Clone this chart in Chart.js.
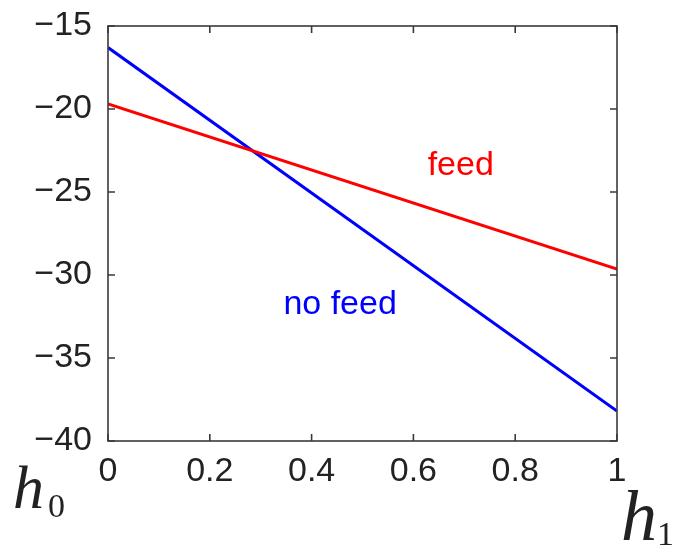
<!DOCTYPE html>
<html>
<head>
<meta charset="utf-8">
<script src="https://cdn.jsdelivr.net/npm/chart.js@4/dist/chart.umd.min.js"></script>
<style>
    html, body { margin: 0; padding: 0; background: #fff; }
    canvas { display: block; }
</style>
</head>
<body>
<canvas id="feedChart" width="679" height="547"></canvas>
<script>
// Line end points (h from 0 to 1)
const hValues = [0, 1];
const feedValues = [-19.7, -29.65];
const noFeedValues = [-16.3, -38.2];

// Axis ticks
const xTicks = [0, 0.2, 0.4, 0.6, 0.8, 1];
const yTicks = [-40, -35, -30, -25, -20, -15];

// Text labels placed in data coordinates
const seriesLabels = [
    { text: 'feed', x: 0.693, y: -23.4, color: '#ff0000' },
    { text: 'no feed', x: 0.456, y: -31.8, color: '#0000ff' }
];

const tickFont = { family: 'Liberation Sans', size: 34 };

function fmt(v) {
    const s = String(Math.round(v * 10) / 10);
    return v < 0 ? '\u2212' + s.slice(1) : s;
}

// Frame with inward ticks on all four sides, plus text labels
const framePlugin = {
    id: 'frame',
    afterDatasetsDraw(chart) {
        const { ctx, chartArea: a, scales } = chart;
        const len = 7;
        ctx.save();
        ctx.strokeStyle = '#3a3a3a';
        ctx.lineWidth = 1.6;
        ctx.beginPath();
        xTicks.forEach(v => {
            const px = scales.x.getPixelForValue(v);
            ctx.moveTo(px, a.bottom); ctx.lineTo(px, a.bottom - len);
            ctx.moveTo(px, a.top); ctx.lineTo(px, a.top + len);
        });
        yTicks.forEach(v => {
            const py = scales.y.getPixelForValue(v);
            ctx.moveTo(a.left, py); ctx.lineTo(a.left + len, py);
            ctx.moveTo(a.right, py); ctx.lineTo(a.right - len, py);
        });
        ctx.stroke();
        ctx.strokeRect(a.left, a.top, a.right - a.left, a.bottom - a.top);

        ctx.font = '34px "Liberation Sans"';
        ctx.textAlign = 'center';
        ctx.textBaseline = 'middle';
        seriesLabels.forEach(l => {
            ctx.fillStyle = l.color;
            ctx.fillText(l.text, scales.x.getPixelForValue(l.x), scales.y.getPixelForValue(l.y));
        });

        // h0 and h1 marks below the axis ends
        ctx.fillStyle = '#222';
        ctx.textAlign = 'left';
        ctx.textBaseline = 'alphabetic';
        ctx.font = 'italic 62px "Liberation Serif"';
        ctx.fillText('h', 13, 508);
        ctx.font = '34px "Liberation Serif"';
        ctx.fillText('0', 48, 517);
        ctx.font = 'italic 72px "Liberation Serif"';
        ctx.fillText('h', 621, 540);
        ctx.font = '34px "Liberation Serif"';
        ctx.fillText('1', 657, 545);
        ctx.restore();
    }
};

new Chart(document.getElementById('feedChart'), {
    type: 'line',
    data: {
        datasets: [
            {
                label: 'feed',
                data: hValues.map((h, i) => ({ x: h, y: feedValues[i] })),
                borderColor: '#ff0000',
                borderWidth: 3,
                pointRadius: 0,
                fill: false
            },
            {
                label: 'no feed',
                data: hValues.map((h, i) => ({ x: h, y: noFeedValues[i] })),
                borderColor: '#0000ff',
                borderWidth: 3,
                pointRadius: 0,
                fill: false
            }
        ]
    },
    options: {
        responsive: false,
        animation: false,
        layout: { padding: { left: 0, right: 62, top: 26, bottom: 0 } },
        plugins: {
            legend: { display: false },
            tooltip: { enabled: false }
        },
        scales: {
            x: {
                type: 'linear',
                min: 0,
                max: 1,
                afterFit: s => { s.height = 106; s.paddingLeft = 0; s.paddingRight = 0; },
                afterBuildTicks: s => { s.ticks = xTicks.map(v => ({ value: v })); },
                grid: { display: false, drawTicks: false },
                border: { display: false },
                ticks: { font: tickFont, color: '#222', padding: 10, maxRotation: 0, callback: v => fmt(v) }
            },
            y: {
                min: -40,
                max: -15,
                afterFit: s => { s.width = 108; s.paddingTop = 0; s.paddingBottom = 0; },
                afterBuildTicks: s => { s.ticks = yTicks.map(v => ({ value: v })); },
                grid: { display: false, drawTicks: false },
                border: { display: false },
                ticks: { font: tickFont, color: '#222', padding: 16, callback: v => fmt(v) }
            }
        }
    },
    plugins: [framePlugin]
});
</script>
</body>
</html>
